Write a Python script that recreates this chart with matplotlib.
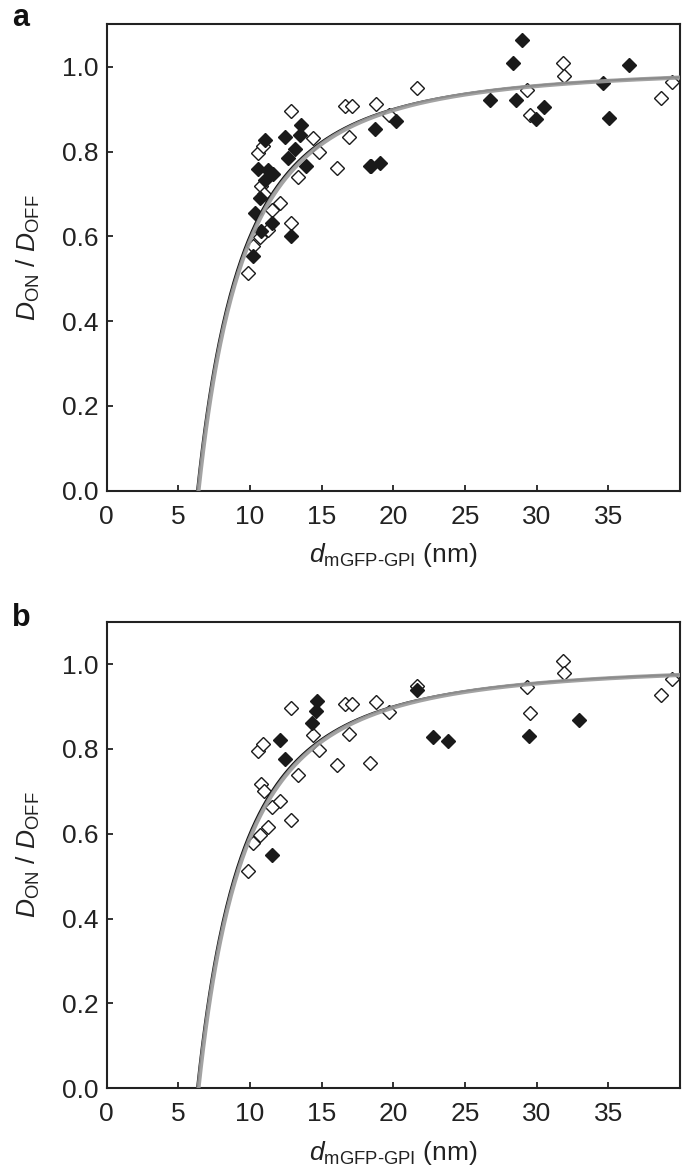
import numpy as np
import matplotlib
matplotlib.use('Agg')
import matplotlib.pyplot as plt

plt.rcParams['font.family'] = ['Liberation Sans', 'DejaVu Sans']
plt.rcParams['mathtext.fontset'] = 'custom'
plt.rcParams['mathtext.rm'] = 'Liberation Sans'
plt.rcParams['mathtext.it'] = 'Liberation Sans:italic'

# ---- open diamonds (same set in both panels) ----
open_x = [9.87, 10.22, 10.68, 10.75, 11.0, 11.26, 11.5, 12.08, 12.89,
          10.57, 10.91, 12.89, 13.35, 14.4, 14.8, 16.05, 16.6, 17.1, 16.9,
          18.4, 18.8, 19.7, 21.65, 29.3, 29.55, 31.87, 31.94, 38.7, 39.45]
open_y = [0.513, 0.577, 0.598, 0.718, 0.700, 0.616, 0.662, 0.678, 0.632,
          0.796, 0.812, 0.896, 0.739, 0.833, 0.798, 0.762, 0.907, 0.907, 0.835,
          0.767, 0.911, 0.887, 0.949, 0.946, 0.885, 1.008, 0.979, 0.927, 0.964]

# ---- filled diamonds, panel a ----
fill_a_x = [10.22, 10.33, 10.57, 10.68, 10.8, 11.03, 11.03, 11.26, 11.61, 11.5,
            12.43, 12.66, 12.89, 13.12, 13.47, 13.59, 13.94, 18.47, 19.05, 18.7,
            20.2, 26.71, 28.34, 28.99, 28.57, 29.92, 30.54, 34.6, 35.03, 36.42]
fill_a_y = [0.553, 0.655, 0.758, 0.690, 0.612, 0.828, 0.734, 0.757, 0.746, 0.632,
            0.834, 0.785, 0.600, 0.805, 0.840, 0.863, 0.765, 0.765, 0.772, 0.852,
            0.872, 0.921, 1.009, 1.063, 0.921, 0.876, 0.905, 0.962, 0.880, 1.005]

# ---- filled diamonds, panel b ----
fill_b_x = [11.5, 12.08, 12.43, 14.29, 14.63, 14.7, 21.65, 22.76, 23.8, 29.45, 32.93]
fill_b_y = [0.551, 0.822, 0.776, 0.862, 0.889, 0.913, 0.939, 0.829, 0.818, 0.830, 0.869]

# fit curves  D_ON/D_OFF = 1 - (d0/d)^2
d0_black = 6.30
d0_gray = 6.40

x_ticks = [0, 5, 10, 15, 20, 25, 30, 35]
y_ticks = [0.0, 0.2, 0.4, 0.6, 0.8, 1.0]

W, H = 685, 1175
fig = plt.figure(figsize=(W / 100, H / 100), dpi=100)

left, right = 106.7 / W, 680 / W
panels = [
    ('a', 24.3, 490.8, fill_a_x, fill_a_y, 18),
    ('b', 621.7, 1088.2, fill_b_x, fill_b_y, 618),
]

for letter, top_px, bot_px, fx, fy, lab_px in panels:
    ax = fig.add_axes([left, 1 - bot_px / H, right - left, (bot_px - top_px) / H])

    ax.plot(open_x, open_y, linestyle='none', marker='D', ms=7.6,
            mfc='white', mec='#1a1a1a', mew=1.0, zorder=2)
    ax.plot(fx, fy, linestyle='none', marker='D', ms=7.6,
            mfc='#1a1a1a', mec='#1a1a1a', mew=1.0, zorder=3)

    xb = np.linspace(d0_black, 40, 400)
    ax.plot(xb, 1 - (d0_black / xb) ** 2, color='#111111', lw=1.4, zorder=4)
    xg = np.linspace(d0_gray, 40, 400)
    ax.plot(xg, 1 - (d0_gray / xg) ** 2, color='#999999', lw=3.0, zorder=5,
            alpha=0.9)

    ax.set_xlim(0, 40)
    ax.set_ylim(0, 1.1)
    ax.set_xticks(x_ticks)
    ax.set_yticks(y_ticks)
    ax.set_yticklabels([f'{v:.1f}' for v in y_ticks])
    ax.tick_params(direction='in', length=4.5, width=1.3, labelsize=19,
                   colors='#222222')
    ax.tick_params(axis='x', pad=10)
    ax.tick_params(axis='y', pad=6)
    for s in ax.spines.values():
        s.set_linewidth(1.5)
        s.set_color('#222222')

    ax.set_xlabel(r'$d_{\mathrm{mGFP\text{-}GPI}}$ (nm)', fontsize=19,
                  color='#222222', labelpad=9)
    ax.set_ylabel(r'$D_{\mathrm{ON}}$ / $D_{\mathrm{OFF}}$', fontsize=19,
                  color='#222222', labelpad=14)

    fig.text(12 / W, 1 - lab_px / H, letter, fontsize=22, fontweight='bold',
             va='center', ha='left', color='#111111')

fig.savefig('out.png', dpi=100)
